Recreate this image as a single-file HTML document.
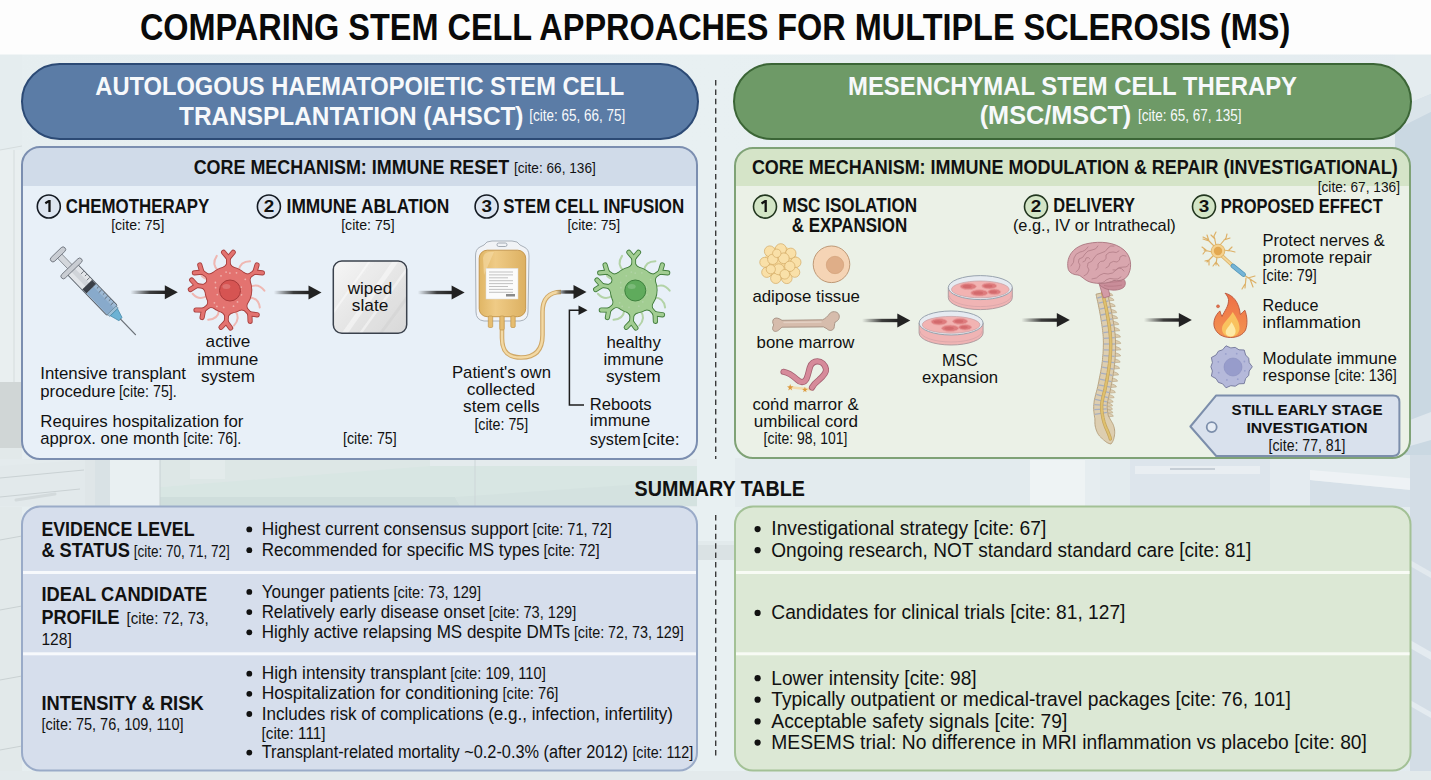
<!DOCTYPE html>
<html><head><meta charset="utf-8"><title>Comparing Stem Cell Approaches for MS</title><style>html,body{margin:0;padding:0;background:#e6eff2;overflow:hidden}svg{display:block}text{font-family:"Liberation Sans",sans-serif}</style></head><body>
<svg width="1431" height="780" viewBox="0 0 1431 780" font-family="Liberation Sans, sans-serif">
<defs>
<linearGradient id="ag" x1="0" x2="1" y1="0" y2="0">
 <stop offset="0" stop-color="#2a2a2a" stop-opacity="0"/>
 <stop offset="0.55" stop-color="#2a2a2a" stop-opacity="0.9"/>
 <stop offset="1" stop-color="#222" stop-opacity="1"/>
</linearGradient>
<linearGradient id="slateg" x1="0" y1="0" x2="1" y2="1">
 <stop offset="0" stop-color="#f6f6f6"/>
 <stop offset="0.5" stop-color="#e6e6e6"/>
 <stop offset="1" stop-color="#d8d8d8"/>
</linearGradient>
<linearGradient id="bagg" x1="0" y1="0" x2="1" y2="0">
 <stop offset="0" stop-color="#e0b665"/>
 <stop offset="0.35" stop-color="#efcb86"/>
 <stop offset="1" stop-color="#dcb061"/>
</linearGradient>
<linearGradient id="fireg" x1="0" y1="0" x2="0" y2="1">
 <stop offset="0" stop-color="#ee6e45"/>
 <stop offset="1" stop-color="#f39552"/>
</linearGradient>
<linearGradient id="bgg" x1="0" y1="0" x2="1" y2="0">
 <stop offset="0" stop-color="#e6eef0"/>
 <stop offset="0.5" stop-color="#e8f0f2"/>
 <stop offset="1" stop-color="#e3ebef"/>
</linearGradient>
</defs>
<rect x="0" y="0" width="1431" height="780" fill="url(#bgg)"/>
<g>
<rect x="0" y="54" width="22" height="100" fill="#e5edef"/>
<rect x="0" y="150" width="22" height="232" fill="#e9eff0"/>
<line x1="14" y1="150" x2="14" y2="382" stroke="#d5dcdd" stroke-width="1"/>
<path d="M0 150 L22 146" stroke="#d5dcdd" stroke-width="1"/>
<rect x="0" y="382" width="22" height="66" fill="#d0d6d6"/>
<rect x="0" y="448" width="22" height="332" fill="#e2e9ea"/>
<path d="M0 470 L22 466" stroke="#c9d1d3" stroke-width="1"/>
<path d="M0 540 L22 536" stroke="#c9d1d3" stroke-width="1"/>
<path d="M0 610 L22 606" stroke="#c9d1d3" stroke-width="1"/>
<path d="M0 680 L22 676" stroke="#c9d1d3" stroke-width="1"/>
<path d="M0 750 L22 746" stroke="#c9d1d3" stroke-width="1"/>
<rect x="0" y="459" width="700" height="48" fill="#e4ebed"/>
<path d="M0 466 L85 460 L85 506 L0 506 Z" fill="#e2e9eb"/>
<path d="M0 478 L84 470 M0 497 L80 489" stroke="#c9d1d3" stroke-width="1"/>
<path d="M16 500 L55 494" stroke="#d3dadc" stroke-width="3" stroke-linecap="round"/>
<rect x="85" y="459" width="10" height="48" fill="#dfe6e8"/>
<rect x="95" y="459" width="15" height="48" fill="#d9e2e5"/>
<rect x="110" y="459" width="50" height="48" fill="#e9f0f2"/>
<path d="M160 459 L430 459 L430 470 L160 487 Z" fill="#dde7e6"/>
<rect x="190" y="459" width="35" height="20" fill="#e3ebeb"/>
<path d="M160 487 L430 466 L700 466 L700 506 L160 506 Z" fill="#d8e6e3"/>
<path d="M160 497 L455 497 L460 506 L160 506 Z" fill="#cfdedc"/>
<path d="M455 497 L700 480 L700 506 L460 506 Z" fill="#d4e2e0"/>
<line x1="160" y1="459" x2="160" y2="506" stroke="#c8d2d3" stroke-width="1"/>
<line x1="475" y1="459" x2="475" y2="506" stroke="#cdd6d8" stroke-width="1"/>
<rect x="697" y="140" width="38" height="640" fill="#e8f0f2"/>
<rect x="697" y="541" width="38" height="19" fill="#dae2e4"/>
<rect x="697" y="541" width="38" height="4" fill="#e2eaec"/>
<rect x="735" y="458" width="696" height="49" fill="#e3ebee"/>
<rect x="1030" y="460" width="55" height="47" fill="#eef3f4"/>
<rect x="1085" y="458" width="15" height="49" fill="#e6edf0"/>
<rect x="1130" y="458" width="140" height="49" fill="#dde5ec"/>
<rect x="1135" y="466" width="125" height="8" fill="#e9eef2"/>
<path d="M1170 469 L1215 469" stroke="#c6ced6" stroke-width="2"/>
<rect x="1270" y="458" width="40" height="49" fill="#e4ebf0"/>
<path d="M1310 480 L1431 492 L1431 507 L1310 507 Z" fill="#d6e0e8"/>
<path d="M1310 470 L1431 480 L1431 492 L1310 480 Z" fill="#eef2f5"/>
<rect x="1410" y="54" width="21" height="726" fill="#d3dde6"/>
<path d="M1395 54 L1431 54 L1431 94 L1395 109 Z" fill="#e4ecef"/>
<path d="M1395 109 L1431 94 L1431 112 L1395 130 Z" fill="#dae4ea"/>
<path d="M1395 130 L1431 112 L1431 455 L1395 455 Z" fill="#cad8e2"/>
<path d="M1410 420 L1431 412 L1431 440 L1410 446 Z" fill="#dfe7ed"/>
<path d="M1410 560 L1431 572 L1431 578 L1410 566 Z" fill="#e2e9ee"/>
<path d="M1410 640 L1431 652 L1431 660 L1410 648 Z" fill="#e4ebf0"/>
<path d="M1410 700 L1431 712 L1431 718 L1410 706 Z" fill="#e4ebf0"/>
<rect x="0" y="771" width="1431" height="9" fill="#e3eaec"/>
</g>
<rect x="0" y="0" width="1431" height="54.5" fill="#fdfdfd"/>
<text x="139.9" y="40.3" font-size="37.5" font-weight="bold" fill="#0a0a0a" textLength="1150.4" lengthAdjust="spacingAndGlyphs">COMPARING STEM CELL APPROACHES FOR MULTIPLE SCLEROSIS (MS)</text>
<rect x="22" y="64" width="676" height="75" rx="37.5" fill="#5b7ca6" stroke="#2c4a75" stroke-width="2"/>
<rect x="734" y="64" width="677" height="75" rx="37.5" fill="#6e9a67" stroke="#3b6536" stroke-width="2"/>
<text x="95.3" y="95.3" font-size="25.4" font-weight="bold" fill="#f7f9fb" textLength="529.0" lengthAdjust="spacingAndGlyphs">AUTOLOGOUS HAEMATOPOIETIC STEM CELL</text>
<text x="179.1" y="124.6" font-size="25.4" font-weight="bold" fill="#f7f9fb" textLength="344.4" lengthAdjust="spacingAndGlyphs">TRANSPLANTATION (AHSCT)</text>
<text x="529.2" y="120.6" font-size="15.7" fill="#f7f9fb" textLength="96.0" lengthAdjust="spacingAndGlyphs">[cite: 65, 66, 75]</text>
<text x="848.0" y="95.1" font-size="25.4" font-weight="bold" fill="#f7f9fb" textLength="449.0" lengthAdjust="spacingAndGlyphs">MESENCHYMAL STEM CELL THERAPY</text>
<text x="979.7" y="124.4" font-size="25.4" font-weight="bold" fill="#f7f9fb" textLength="151.6" lengthAdjust="spacingAndGlyphs">(MSC/MSCT)</text>
<text x="1137.9" y="120.6" font-size="15.7" fill="#f7f9fb" textLength="103.7" lengthAdjust="spacingAndGlyphs">[cite: 65, 67, 135]</text>
<clipPath id="cpb"><rect x="22" y="147" width="675" height="312" rx="18"/></clipPath>
<rect x="22" y="147" width="675" height="312" rx="18" fill="#e8f0f8"/>
<rect x="22" y="147" width="675" height="39" fill="#d0dbe9" clip-path="url(#cpb)"/>
<rect x="22" y="147" width="675" height="312" rx="18" fill="none" stroke="#7b8eb0" stroke-width="2"/>
<clipPath id="cpg"><rect x="735" y="148" width="675" height="310" rx="18"/></clipPath>
<rect x="735" y="148" width="675" height="310" rx="18" fill="#ebf1e7"/>
<rect x="735" y="148" width="675" height="38" fill="#d5e4c8" clip-path="url(#cpg)"/>
<rect x="735" y="148" width="675" height="310" rx="18" fill="none" stroke="#7fa276" stroke-width="2"/>
<text x="193.7" y="174.0" font-size="20" font-weight="bold" fill="#111" textLength="315.4" lengthAdjust="spacingAndGlyphs">CORE MECHANISM: IMMUNE RESET</text>
<text x="513.9" y="172.6" font-size="14.4" fill="#111" textLength="81.9" lengthAdjust="spacingAndGlyphs">[cite: 66, 136]</text>
<text x="751.9" y="173.8" font-size="20" font-weight="bold" fill="#111" textLength="645.9" lengthAdjust="spacingAndGlyphs">CORE MECHANISM: IMMUNE MODULATION &amp; REPAIR (INVESTIGATIONAL)</text>
<text x="1317.7" y="192.3" font-size="14.4" fill="#111" textLength="82.3" lengthAdjust="spacingAndGlyphs">[cite: 67, 136]</text>
<circle cx="48.8" cy="206.5" r="11.5" fill="#dde5f0" stroke="#141a22" stroke-width="1.6"/>
<path d="M49.5 211.9 L49.5 201.1 L48.9 201.1 L45.3 203.3" stroke="#111" stroke-width="2.3" fill="none" stroke-linejoin="miter"/>
<text x="65.8" y="212.8" font-size="19.4" font-weight="bold" fill="#111" textLength="143.5" lengthAdjust="spacingAndGlyphs">CHEMOTHERAPY</text>
<text x="111.2" y="230.3" font-size="13.8" fill="#111" textLength="53.1" lengthAdjust="spacingAndGlyphs">[cite: 75]</text>
<circle cx="268.9" cy="206.5" r="11.5" fill="#dde5f0" stroke="#141a22" stroke-width="1.6"/>
<text x="263.7" y="211.9" font-size="16.2" font-weight="bold" fill="#111" textLength="10.5" lengthAdjust="spacingAndGlyphs">2</text>
<text x="286.6" y="212.8" font-size="19.4" font-weight="bold" fill="#111" textLength="162.7" lengthAdjust="spacingAndGlyphs">IMMUNE ABLATION</text>
<text x="341.2" y="230.3" font-size="13.8" fill="#111" textLength="53.4" lengthAdjust="spacingAndGlyphs">[cite: 75]</text>
<circle cx="486.6" cy="206.5" r="11.5" fill="#dde5f0" stroke="#141a22" stroke-width="1.6"/>
<text x="481.4" y="211.9" font-size="16.2" font-weight="bold" fill="#111" textLength="10.5" lengthAdjust="spacingAndGlyphs">3</text>
<text x="503.3" y="212.8" font-size="19.4" font-weight="bold" fill="#111" textLength="180.9" lengthAdjust="spacingAndGlyphs">STEM CELL INFUSION</text>
<text x="567.4" y="230.3" font-size="13.8" fill="#111" textLength="52.8" lengthAdjust="spacingAndGlyphs">[cite: 75]</text>
<circle cx="765.0" cy="206.6" r="11.5" fill="#d3e5c6" stroke="#22361f" stroke-width="1.6"/>
<path d="M765.7 212.0 L765.7 201.2 L765.1 201.2 L761.5 203.4" stroke="#111" stroke-width="2.3" fill="none" stroke-linejoin="miter"/>
<text x="782.4" y="212.3" font-size="19.4" font-weight="bold" fill="#111" textLength="134.7" lengthAdjust="spacingAndGlyphs">MSC ISOLATION</text>
<text x="791.7" y="231.8" font-size="19.4" font-weight="bold" fill="#111" textLength="115.5" lengthAdjust="spacingAndGlyphs">&amp; EXPANSION</text>
<circle cx="1036.0" cy="206.6" r="11.5" fill="#d3e5c6" stroke="#22361f" stroke-width="1.6"/>
<text x="1030.8" y="212.0" font-size="16.2" font-weight="bold" fill="#111" textLength="10.5" lengthAdjust="spacingAndGlyphs">2</text>
<text x="1053.3" y="211.9" font-size="19.4" font-weight="bold" fill="#111" textLength="81.6" lengthAdjust="spacingAndGlyphs">DELIVERY</text>
<text x="1012.9" y="231.2" font-size="16.5" fill="#111" textLength="162.9" lengthAdjust="spacingAndGlyphs">(e.g., IV or Intrathecal)</text>
<circle cx="1204.0" cy="206.6" r="11.5" fill="#d3e5c6" stroke="#22361f" stroke-width="1.6"/>
<text x="1198.8" y="212.0" font-size="16.2" font-weight="bold" fill="#111" textLength="10.5" lengthAdjust="spacingAndGlyphs">3</text>
<text x="1220.8" y="212.8" font-size="19.4" font-weight="bold" fill="#111" textLength="161.9" lengthAdjust="spacingAndGlyphs">PROPOSED EFFECT</text>
<g transform="translate(58,254.4) rotate(46)">
 <rect x="0" y="-3" width="20" height="6" fill="#d3d7dc" stroke="#7c828a" stroke-width="0.8"/>
 <rect x="-2.6" y="-9.6" width="5.2" height="19.2" rx="2.6" fill="#c9cdd3" stroke="#6f757e" stroke-width="0.9"/>
 <rect x="21" y="-7.2" width="57" height="14.4" rx="1.5" fill="#e8ebee" stroke="#59616a" stroke-width="1"/>
 <rect x="21.5" y="-6.7" width="20" height="13.4" fill="#e2e5e9"/><rect x="21.5" y="-2.5" width="21" height="5" fill="#d0d4d9"/>
 <rect x="42" y="-6.6" width="6" height="13.2" fill="#3a3f47"/>
 <rect x="48" y="-6.6" width="29.5" height="13.2" fill="#88aacb"/>
 <rect x="48" y="-6.6" width="29.5" height="3.6" fill="#9db9d4"/>
 <rect x="17" y="-13.8" width="5" height="27.6" rx="2.5" fill="#c9cdd3" stroke="#6f757e" stroke-width="0.9"/>

 <line x1="30.0" y1="-6.8" x2="30.0" y2="-2.8" stroke="#4a5058" stroke-width="0.7"/>
 <line x1="34.3" y1="-6.8" x2="34.3" y2="-4.3" stroke="#4a5058" stroke-width="0.7"/>
 <line x1="38.6" y1="-6.8" x2="38.6" y2="-2.8" stroke="#4a5058" stroke-width="0.7"/>
 <line x1="42.9" y1="-6.8" x2="42.9" y2="-4.3" stroke="#4a5058" stroke-width="0.7"/>
 <line x1="47.2" y1="-6.8" x2="47.2" y2="-2.8" stroke="#4a5058" stroke-width="0.7"/>
 <line x1="51.5" y1="-6.8" x2="51.5" y2="-4.3" stroke="#4a5058" stroke-width="0.7"/>
 <line x1="55.8" y1="-6.8" x2="55.8" y2="-2.8" stroke="#4a5058" stroke-width="0.7"/>
 <line x1="60.1" y1="-6.8" x2="60.1" y2="-4.3" stroke="#4a5058" stroke-width="0.7"/>
 <line x1="64.4" y1="-6.8" x2="64.4" y2="-2.8" stroke="#4a5058" stroke-width="0.7"/>
 <line x1="68.7" y1="-6.8" x2="68.7" y2="-4.3" stroke="#4a5058" stroke-width="0.7"/>
 <line x1="73.0" y1="-6.8" x2="73.0" y2="-2.8" stroke="#4a5058" stroke-width="0.7"/>
 <rect x="77.5" y="-6" width="3" height="12" fill="#9dbfd6" stroke="#5f7f96" stroke-width="0.6"/>
 <path d="M80.5 -5 L90 -2.2 L90 2.2 L80.5 5 Z" fill="#6cb2d4" stroke="#4387a8" stroke-width="0.7"/>
 <line x1="90" y1="0" x2="111.5" y2="0" stroke="#6b7178" stroke-width="1.3" stroke-linecap="round"/>
</g>
<g transform="translate(228.4,290.0)">
<path d="M-10.3 -19.4 Q-17.2 -25.8 -11.6 -34.1" stroke="#efb7b2" stroke-width="2" fill="none" stroke-linecap="round"/>
<path d="M10.3 -19.4 Q11.7 -28.7 21.7 -28.7" stroke="#efb7b2" stroke-width="2" fill="none" stroke-linecap="round"/>
<path d="M21.8 -3.1 Q30.1 -7.4 36.0 0.7" stroke="#efb7b2" stroke-width="2" fill="none" stroke-linecap="round"/>
<path d="M20.7 7.5 Q30.0 7.6 31.4 17.5" stroke="#efb7b2" stroke-width="2" fill="none" stroke-linecap="round"/>
<path d="M6.8 20.9 Q12.5 28.4 5.5 35.6" stroke="#efb7b2" stroke-width="2" fill="none" stroke-linecap="round"/>
<path d="M-9.3 19.9 Q-10.2 29.3 -20.2 29.8" stroke="#efb7b2" stroke-width="2" fill="none" stroke-linecap="round"/>
<path d="M-21.3 5.7 Q-29.0 11.0 -35.8 3.7" stroke="#efb7b2" stroke-width="2" fill="none" stroke-linecap="round"/>
<path d="M-19.4 -10.3 Q-28.7 -11.7 -28.7 -21.7" stroke="#efb7b2" stroke-width="2" fill="none" stroke-linecap="round"/>
<path d="M5.5 -22.0 Q1.2 -24.0 0.0 -30.0 Q-1.2 -24.0 -5.5 -22.0 Z" fill="#a9403f" stroke="#a9403f" stroke-width="1.80" stroke-linejoin="round"/>
<path d="M0.0 -20.0 L0.0 -32.0" stroke="#a9403f" stroke-width="4.80" stroke-linecap="round"/>
<path d="M0.0 -32.0 L-4.8 -37.7" stroke="#a9403f" stroke-width="5.20" stroke-linecap="round"/>
<path d="M0.0 -32.0 L4.8 -37.7" stroke="#a9403f" stroke-width="5.20" stroke-linecap="round"/>
<path d="M21.3 -7.7 Q20.6 -12.4 24.9 -16.8 Q19.2 -14.4 15.2 -16.9 Z" fill="#a9403f" stroke="#a9403f" stroke-width="1.80" stroke-linejoin="round"/>
<path d="M16.6 -11.2 L26.5 -17.9" stroke="#a9403f" stroke-width="4.80" stroke-linecap="round"/>
<path d="M26.5 -17.9 L28.6 -25.1" stroke="#a9403f" stroke-width="5.20" stroke-linecap="round"/>
<path d="M26.5 -17.9 L34.0 -17.1" stroke="#a9403f" stroke-width="5.20" stroke-linecap="round"/>
<path d="M-15.2 -16.9 Q-19.2 -14.4 -24.9 -16.8 Q-20.6 -12.4 -21.3 -7.7 Z" fill="#a9403f" stroke="#a9403f" stroke-width="1.80" stroke-linejoin="round"/>
<path d="M-16.6 -11.2 L-26.5 -17.9" stroke="#a9403f" stroke-width="4.80" stroke-linecap="round"/>
<path d="M-26.5 -17.9 L-34.0 -17.1" stroke="#a9403f" stroke-width="5.20" stroke-linecap="round"/>
<path d="M-26.5 -17.9 L-28.6 -25.1" stroke="#a9403f" stroke-width="5.20" stroke-linecap="round"/>
<path d="M-21.0 -8.5 Q-23.6 -4.5 -29.7 -4.2 Q-23.9 -2.2 -22.6 2.4 Z" fill="#a9403f" stroke="#a9403f" stroke-width="1.80" stroke-linejoin="round"/>
<path d="M-19.8 -2.8 L-31.7 -4.5" stroke="#a9403f" stroke-width="4.80" stroke-linecap="round"/>
<path d="M-31.7 -4.5 L-38.0 -0.5" stroke="#a9403f" stroke-width="5.20" stroke-linecap="round"/>
<path d="M-31.7 -4.5 L-36.7 -10.0" stroke="#a9403f" stroke-width="5.20" stroke-linecap="round"/>
<path d="M-20.6 9.6 Q-19.4 14.2 -23.3 18.9 Q-17.9 16.0 -13.6 18.1 Z" fill="#a9403f" stroke="#a9403f" stroke-width="1.80" stroke-linejoin="round"/>
<path d="M-15.5 12.6 L-24.9 20.1" stroke="#a9403f" stroke-width="4.80" stroke-linecap="round"/>
<path d="M-24.9 20.1 L-26.3 27.5" stroke="#a9403f" stroke-width="5.20" stroke-linecap="round"/>
<path d="M-24.9 20.1 L-32.4 20.0" stroke="#a9403f" stroke-width="5.20" stroke-linecap="round"/>
<path d="M-7.0 21.6 Q-2.9 23.9 -2.1 29.9 Q-0.5 24.0 4.0 22.3 Z" fill="#a9403f" stroke="#a9403f" stroke-width="1.80" stroke-linejoin="round"/>
<path d="M-1.4 20.0 L-2.2 31.9" stroke="#a9403f" stroke-width="4.80" stroke-linecap="round"/>
<path d="M-2.2 31.9 L2.2 38.0" stroke="#a9403f" stroke-width="5.20" stroke-linecap="round"/>
<path d="M-2.2 31.9 L-7.4 37.3" stroke="#a9403f" stroke-width="5.20" stroke-linecap="round"/>
<path d="M10.6 20.0 Q15.2 18.6 20.1 22.3 Q17.0 17.0 18.8 12.7 Z" fill="#a9403f" stroke="#a9403f" stroke-width="1.80" stroke-linejoin="round"/>
<path d="M13.4 14.9 L21.4 23.8" stroke="#a9403f" stroke-width="4.80" stroke-linecap="round"/>
<path d="M21.4 23.8 L28.8 24.8" stroke="#a9403f" stroke-width="5.20" stroke-linecap="round"/>
<path d="M21.4 23.8 L21.7 31.3" stroke="#a9403f" stroke-width="5.20" stroke-linecap="round"/>
<circle r="23.90" fill="#a9403f"/>
<path d="M5.5 -22.0 Q1.2 -24.0 0.0 -30.0 Q-1.2 -24.0 -5.5 -22.0 Z" fill="#e37370"/>
<path d="M0.0 -20.0 L0.0 -32.0" stroke="#e37370" stroke-width="3.00" stroke-linecap="round"/>
<path d="M0.0 -32.0 L-4.8 -37.7" stroke="#e37370" stroke-width="3.40" stroke-linecap="round"/>
<path d="M0.0 -32.0 L4.8 -37.7" stroke="#e37370" stroke-width="3.40" stroke-linecap="round"/>
<path d="M21.3 -7.7 Q20.6 -12.4 24.9 -16.8 Q19.2 -14.4 15.2 -16.9 Z" fill="#e37370"/>
<path d="M16.6 -11.2 L26.5 -17.9" stroke="#e37370" stroke-width="3.00" stroke-linecap="round"/>
<path d="M26.5 -17.9 L28.6 -25.1" stroke="#e37370" stroke-width="3.40" stroke-linecap="round"/>
<path d="M26.5 -17.9 L34.0 -17.1" stroke="#e37370" stroke-width="3.40" stroke-linecap="round"/>
<path d="M-15.2 -16.9 Q-19.2 -14.4 -24.9 -16.8 Q-20.6 -12.4 -21.3 -7.7 Z" fill="#e37370"/>
<path d="M-16.6 -11.2 L-26.5 -17.9" stroke="#e37370" stroke-width="3.00" stroke-linecap="round"/>
<path d="M-26.5 -17.9 L-34.0 -17.1" stroke="#e37370" stroke-width="3.40" stroke-linecap="round"/>
<path d="M-26.5 -17.9 L-28.6 -25.1" stroke="#e37370" stroke-width="3.40" stroke-linecap="round"/>
<path d="M-21.0 -8.5 Q-23.6 -4.5 -29.7 -4.2 Q-23.9 -2.2 -22.6 2.4 Z" fill="#e37370"/>
<path d="M-19.8 -2.8 L-31.7 -4.5" stroke="#e37370" stroke-width="3.00" stroke-linecap="round"/>
<path d="M-31.7 -4.5 L-38.0 -0.5" stroke="#e37370" stroke-width="3.40" stroke-linecap="round"/>
<path d="M-31.7 -4.5 L-36.7 -10.0" stroke="#e37370" stroke-width="3.40" stroke-linecap="round"/>
<path d="M-20.6 9.6 Q-19.4 14.2 -23.3 18.9 Q-17.9 16.0 -13.6 18.1 Z" fill="#e37370"/>
<path d="M-15.5 12.6 L-24.9 20.1" stroke="#e37370" stroke-width="3.00" stroke-linecap="round"/>
<path d="M-24.9 20.1 L-26.3 27.5" stroke="#e37370" stroke-width="3.40" stroke-linecap="round"/>
<path d="M-24.9 20.1 L-32.4 20.0" stroke="#e37370" stroke-width="3.40" stroke-linecap="round"/>
<path d="M-7.0 21.6 Q-2.9 23.9 -2.1 29.9 Q-0.5 24.0 4.0 22.3 Z" fill="#e37370"/>
<path d="M-1.4 20.0 L-2.2 31.9" stroke="#e37370" stroke-width="3.00" stroke-linecap="round"/>
<path d="M-2.2 31.9 L2.2 38.0" stroke="#e37370" stroke-width="3.40" stroke-linecap="round"/>
<path d="M-2.2 31.9 L-7.4 37.3" stroke="#e37370" stroke-width="3.40" stroke-linecap="round"/>
<path d="M10.6 20.0 Q15.2 18.6 20.1 22.3 Q17.0 17.0 18.8 12.7 Z" fill="#e37370"/>
<path d="M13.4 14.9 L21.4 23.8" stroke="#e37370" stroke-width="3.00" stroke-linecap="round"/>
<path d="M21.4 23.8 L28.8 24.8" stroke="#e37370" stroke-width="3.40" stroke-linecap="round"/>
<path d="M21.4 23.8 L21.7 31.3" stroke="#e37370" stroke-width="3.40" stroke-linecap="round"/>
<circle r="23.00" fill="#e37370"/>
<circle cx="12.0" cy="0.0" r="0.9" fill="#efb7b2" opacity="0.9"/>
<circle cx="-14.0" cy="12.8" r="0.9" fill="#efb7b2" opacity="0.9"/>
<circle cx="1.5" cy="-16.9" r="0.9" fill="#efb7b2" opacity="0.9"/>
<circle cx="9.1" cy="11.9" r="0.9" fill="#efb7b2" opacity="0.9"/>
<circle cx="-12.8" cy="-2.3" r="0.9" fill="#efb7b2" opacity="0.9"/>
<circle cx="16.9" cy="-10.7" r="0.9" fill="#efb7b2" opacity="0.9"/>
<circle cx="-4.7" cy="17.4" r="0.9" fill="#efb7b2" opacity="0.9"/>
<circle cx="-7.4" cy="-14.2" r="0.9" fill="#efb7b2" opacity="0.9"/>
<circle cx="13.1" cy="4.8" r="0.9" fill="#efb7b2" opacity="0.9"/>
<circle cx="-11.1" cy="4.6" r="0.9" fill="#efb7b2" opacity="0.9"/>
<circle cx="8.1" cy="-17.2" r="0.9" fill="#efb7b2" opacity="0.9"/>
<circle cx="5.1" cy="16.2" r="0.9" fill="#efb7b2" opacity="0.9"/>
<circle cx="-13.0" cy="-7.5" r="0.9" fill="#efb7b2" opacity="0.9"/>
<circle cx="12.7" cy="-2.8" r="0.9" fill="#efb7b2" opacity="0.9"/>
<circle cx="-11.5" cy="16.4" r="0.9" fill="#efb7b2" opacity="0.9"/>
<circle cx="-2.3" cy="-17.9" r="0.9" fill="#efb7b2" opacity="0.9"/>
<circle cx="1.6" cy="0.5" r="10.5" fill="#d65452" stroke="#a93a3a" stroke-width="1"/>
<ellipse cx="-2" cy="-3.5" rx="4" ry="2.5" fill="#ffffff" opacity="0.18"/>
</g>
<g transform="translate(633.7,290.0)">
<path d="M-10.3 -19.4 Q-17.2 -25.8 -11.6 -34.1" stroke="#b3d3a7" stroke-width="2" fill="none" stroke-linecap="round"/>
<path d="M10.3 -19.4 Q11.7 -28.7 21.7 -28.7" stroke="#b3d3a7" stroke-width="2" fill="none" stroke-linecap="round"/>
<path d="M21.8 -3.1 Q30.1 -7.4 36.0 0.7" stroke="#b3d3a7" stroke-width="2" fill="none" stroke-linecap="round"/>
<path d="M20.7 7.5 Q30.0 7.6 31.4 17.5" stroke="#b3d3a7" stroke-width="2" fill="none" stroke-linecap="round"/>
<path d="M6.8 20.9 Q12.5 28.4 5.5 35.6" stroke="#b3d3a7" stroke-width="2" fill="none" stroke-linecap="round"/>
<path d="M-9.3 19.9 Q-10.2 29.3 -20.2 29.8" stroke="#b3d3a7" stroke-width="2" fill="none" stroke-linecap="round"/>
<path d="M-21.3 5.7 Q-29.0 11.0 -35.8 3.7" stroke="#b3d3a7" stroke-width="2" fill="none" stroke-linecap="round"/>
<path d="M-19.4 -10.3 Q-28.7 -11.7 -28.7 -21.7" stroke="#b3d3a7" stroke-width="2" fill="none" stroke-linecap="round"/>
<path d="M5.5 -22.0 Q1.2 -24.0 0.0 -30.0 Q-1.2 -24.0 -5.5 -22.0 Z" fill="#437e3d" stroke="#437e3d" stroke-width="1.80" stroke-linejoin="round"/>
<path d="M0.0 -20.0 L0.0 -32.0" stroke="#437e3d" stroke-width="4.80" stroke-linecap="round"/>
<path d="M0.0 -32.0 L-4.8 -37.7" stroke="#437e3d" stroke-width="5.20" stroke-linecap="round"/>
<path d="M0.0 -32.0 L4.8 -37.7" stroke="#437e3d" stroke-width="5.20" stroke-linecap="round"/>
<path d="M21.3 -7.7 Q20.6 -12.4 24.9 -16.8 Q19.2 -14.4 15.2 -16.9 Z" fill="#437e3d" stroke="#437e3d" stroke-width="1.80" stroke-linejoin="round"/>
<path d="M16.6 -11.2 L26.5 -17.9" stroke="#437e3d" stroke-width="4.80" stroke-linecap="round"/>
<path d="M26.5 -17.9 L28.6 -25.1" stroke="#437e3d" stroke-width="5.20" stroke-linecap="round"/>
<path d="M26.5 -17.9 L34.0 -17.1" stroke="#437e3d" stroke-width="5.20" stroke-linecap="round"/>
<path d="M-15.2 -16.9 Q-19.2 -14.4 -24.9 -16.8 Q-20.6 -12.4 -21.3 -7.7 Z" fill="#437e3d" stroke="#437e3d" stroke-width="1.80" stroke-linejoin="round"/>
<path d="M-16.6 -11.2 L-26.5 -17.9" stroke="#437e3d" stroke-width="4.80" stroke-linecap="round"/>
<path d="M-26.5 -17.9 L-34.0 -17.1" stroke="#437e3d" stroke-width="5.20" stroke-linecap="round"/>
<path d="M-26.5 -17.9 L-28.6 -25.1" stroke="#437e3d" stroke-width="5.20" stroke-linecap="round"/>
<path d="M-21.0 -8.5 Q-23.6 -4.5 -29.7 -4.2 Q-23.9 -2.2 -22.6 2.4 Z" fill="#437e3d" stroke="#437e3d" stroke-width="1.80" stroke-linejoin="round"/>
<path d="M-19.8 -2.8 L-31.7 -4.5" stroke="#437e3d" stroke-width="4.80" stroke-linecap="round"/>
<path d="M-31.7 -4.5 L-38.0 -0.5" stroke="#437e3d" stroke-width="5.20" stroke-linecap="round"/>
<path d="M-31.7 -4.5 L-36.7 -10.0" stroke="#437e3d" stroke-width="5.20" stroke-linecap="round"/>
<path d="M-20.6 9.6 Q-19.4 14.2 -23.3 18.9 Q-17.9 16.0 -13.6 18.1 Z" fill="#437e3d" stroke="#437e3d" stroke-width="1.80" stroke-linejoin="round"/>
<path d="M-15.5 12.6 L-24.9 20.1" stroke="#437e3d" stroke-width="4.80" stroke-linecap="round"/>
<path d="M-24.9 20.1 L-26.3 27.5" stroke="#437e3d" stroke-width="5.20" stroke-linecap="round"/>
<path d="M-24.9 20.1 L-32.4 20.0" stroke="#437e3d" stroke-width="5.20" stroke-linecap="round"/>
<path d="M-7.0 21.6 Q-2.9 23.9 -2.1 29.9 Q-0.5 24.0 4.0 22.3 Z" fill="#437e3d" stroke="#437e3d" stroke-width="1.80" stroke-linejoin="round"/>
<path d="M-1.4 20.0 L-2.2 31.9" stroke="#437e3d" stroke-width="4.80" stroke-linecap="round"/>
<path d="M-2.2 31.9 L2.2 38.0" stroke="#437e3d" stroke-width="5.20" stroke-linecap="round"/>
<path d="M-2.2 31.9 L-7.4 37.3" stroke="#437e3d" stroke-width="5.20" stroke-linecap="round"/>
<path d="M10.6 20.0 Q15.2 18.6 20.1 22.3 Q17.0 17.0 18.8 12.7 Z" fill="#437e3d" stroke="#437e3d" stroke-width="1.80" stroke-linejoin="round"/>
<path d="M13.4 14.9 L21.4 23.8" stroke="#437e3d" stroke-width="4.80" stroke-linecap="round"/>
<path d="M21.4 23.8 L28.8 24.8" stroke="#437e3d" stroke-width="5.20" stroke-linecap="round"/>
<path d="M21.4 23.8 L21.7 31.3" stroke="#437e3d" stroke-width="5.20" stroke-linecap="round"/>
<circle r="23.90" fill="#437e3d"/>
<path d="M5.5 -22.0 Q1.2 -24.0 0.0 -30.0 Q-1.2 -24.0 -5.5 -22.0 Z" fill="#a2cd92"/>
<path d="M0.0 -20.0 L0.0 -32.0" stroke="#a2cd92" stroke-width="3.00" stroke-linecap="round"/>
<path d="M0.0 -32.0 L-4.8 -37.7" stroke="#a2cd92" stroke-width="3.40" stroke-linecap="round"/>
<path d="M0.0 -32.0 L4.8 -37.7" stroke="#a2cd92" stroke-width="3.40" stroke-linecap="round"/>
<path d="M21.3 -7.7 Q20.6 -12.4 24.9 -16.8 Q19.2 -14.4 15.2 -16.9 Z" fill="#a2cd92"/>
<path d="M16.6 -11.2 L26.5 -17.9" stroke="#a2cd92" stroke-width="3.00" stroke-linecap="round"/>
<path d="M26.5 -17.9 L28.6 -25.1" stroke="#a2cd92" stroke-width="3.40" stroke-linecap="round"/>
<path d="M26.5 -17.9 L34.0 -17.1" stroke="#a2cd92" stroke-width="3.40" stroke-linecap="round"/>
<path d="M-15.2 -16.9 Q-19.2 -14.4 -24.9 -16.8 Q-20.6 -12.4 -21.3 -7.7 Z" fill="#a2cd92"/>
<path d="M-16.6 -11.2 L-26.5 -17.9" stroke="#a2cd92" stroke-width="3.00" stroke-linecap="round"/>
<path d="M-26.5 -17.9 L-34.0 -17.1" stroke="#a2cd92" stroke-width="3.40" stroke-linecap="round"/>
<path d="M-26.5 -17.9 L-28.6 -25.1" stroke="#a2cd92" stroke-width="3.40" stroke-linecap="round"/>
<path d="M-21.0 -8.5 Q-23.6 -4.5 -29.7 -4.2 Q-23.9 -2.2 -22.6 2.4 Z" fill="#a2cd92"/>
<path d="M-19.8 -2.8 L-31.7 -4.5" stroke="#a2cd92" stroke-width="3.00" stroke-linecap="round"/>
<path d="M-31.7 -4.5 L-38.0 -0.5" stroke="#a2cd92" stroke-width="3.40" stroke-linecap="round"/>
<path d="M-31.7 -4.5 L-36.7 -10.0" stroke="#a2cd92" stroke-width="3.40" stroke-linecap="round"/>
<path d="M-20.6 9.6 Q-19.4 14.2 -23.3 18.9 Q-17.9 16.0 -13.6 18.1 Z" fill="#a2cd92"/>
<path d="M-15.5 12.6 L-24.9 20.1" stroke="#a2cd92" stroke-width="3.00" stroke-linecap="round"/>
<path d="M-24.9 20.1 L-26.3 27.5" stroke="#a2cd92" stroke-width="3.40" stroke-linecap="round"/>
<path d="M-24.9 20.1 L-32.4 20.0" stroke="#a2cd92" stroke-width="3.40" stroke-linecap="round"/>
<path d="M-7.0 21.6 Q-2.9 23.9 -2.1 29.9 Q-0.5 24.0 4.0 22.3 Z" fill="#a2cd92"/>
<path d="M-1.4 20.0 L-2.2 31.9" stroke="#a2cd92" stroke-width="3.00" stroke-linecap="round"/>
<path d="M-2.2 31.9 L2.2 38.0" stroke="#a2cd92" stroke-width="3.40" stroke-linecap="round"/>
<path d="M-2.2 31.9 L-7.4 37.3" stroke="#a2cd92" stroke-width="3.40" stroke-linecap="round"/>
<path d="M10.6 20.0 Q15.2 18.6 20.1 22.3 Q17.0 17.0 18.8 12.7 Z" fill="#a2cd92"/>
<path d="M13.4 14.9 L21.4 23.8" stroke="#a2cd92" stroke-width="3.00" stroke-linecap="round"/>
<path d="M21.4 23.8 L28.8 24.8" stroke="#a2cd92" stroke-width="3.40" stroke-linecap="round"/>
<path d="M21.4 23.8 L21.7 31.3" stroke="#a2cd92" stroke-width="3.40" stroke-linecap="round"/>
<circle r="23.00" fill="#a2cd92"/>
<circle cx="12.0" cy="0.0" r="0.9" fill="#b3d3a7" opacity="0.9"/>
<circle cx="-14.0" cy="12.8" r="0.9" fill="#b3d3a7" opacity="0.9"/>
<circle cx="1.5" cy="-16.9" r="0.9" fill="#b3d3a7" opacity="0.9"/>
<circle cx="9.1" cy="11.9" r="0.9" fill="#b3d3a7" opacity="0.9"/>
<circle cx="-12.8" cy="-2.3" r="0.9" fill="#b3d3a7" opacity="0.9"/>
<circle cx="16.9" cy="-10.7" r="0.9" fill="#b3d3a7" opacity="0.9"/>
<circle cx="-4.7" cy="17.4" r="0.9" fill="#b3d3a7" opacity="0.9"/>
<circle cx="-7.4" cy="-14.2" r="0.9" fill="#b3d3a7" opacity="0.9"/>
<circle cx="13.1" cy="4.8" r="0.9" fill="#b3d3a7" opacity="0.9"/>
<circle cx="-11.1" cy="4.6" r="0.9" fill="#b3d3a7" opacity="0.9"/>
<circle cx="8.1" cy="-17.2" r="0.9" fill="#b3d3a7" opacity="0.9"/>
<circle cx="5.1" cy="16.2" r="0.9" fill="#b3d3a7" opacity="0.9"/>
<circle cx="-13.0" cy="-7.5" r="0.9" fill="#b3d3a7" opacity="0.9"/>
<circle cx="12.7" cy="-2.8" r="0.9" fill="#b3d3a7" opacity="0.9"/>
<circle cx="-11.5" cy="16.4" r="0.9" fill="#b3d3a7" opacity="0.9"/>
<circle cx="-2.3" cy="-17.9" r="0.9" fill="#b3d3a7" opacity="0.9"/>
<circle cx="1.6" cy="0.5" r="10.5" fill="#5fab5c" stroke="#3c803c" stroke-width="1"/>
<ellipse cx="-2" cy="-3.5" rx="4" ry="2.5" fill="#ffffff" opacity="0.18"/>
</g>
<g>
 <clipPath id="slc"><rect x="333.3" y="261" width="73.4" height="72.3" rx="8.5"/></clipPath>
 <rect x="333.3" y="261" width="73.4" height="72.3" rx="8.5" fill="url(#slateg)"/>
 <g clip-path="url(#slc)" opacity="0.45">
  <path d="M340 340 L400 255" stroke="#ffffff" stroke-width="5"/>
  <path d="M352 345 L412 262" stroke="#ffffff" stroke-width="2.5"/>
  <path d="M328 320 L372 258" stroke="#ffffff" stroke-width="2"/>
  <path d="M372 345 L420 280" stroke="#cfcfcf" stroke-width="3"/>
 </g>
 <rect x="333.3" y="261" width="73.4" height="72.3" rx="8.5" fill="none" stroke="#3a414c" stroke-width="1.5"/>
</g>
<g>
 <path d="M502 316 L502 338 C502 352 508 357.5 521 357.5 C535 357.5 542.5 350 542.5 335 L542.5 312 C542.5 299 549 292 561 292" stroke="#cfa868" stroke-width="4.6" fill="none"/>
 <path d="M502 316 L502 338 C502 352 508 357.5 521 357.5 C535 357.5 542.5 350 542.5 335 L542.5 312 C542.5 299 549 292 561 292" stroke="#f3d9a4" stroke-width="2.4" fill="none"/>
 <path d="M484 245 Q486 241 492 241 L512 241 Q518 241 520 245 L524 247 Q529 249 529 256 L528 312 Q528 320 520 321 L484 321 Q476 320 476 312 L475.5 256 Q475.5 249 480 247 Z" fill="#f1f3f6" stroke="#a9b1ba" stroke-width="1"/>
 <rect x="497" y="243" width="10" height="3.5" rx="1.7" fill="none" stroke="#9aa3ad" stroke-width="0.9"/>
 <rect x="479.2" y="250.2" width="46.5" height="66.5" rx="8" fill="url(#bagg)" stroke="#c29245" stroke-width="0.9"/>
 <path d="M483 258 Q484 252 490 252 L494 252 L484 275 Z" fill="#f6dca6" opacity="0.6"/>
 <rect x="486" y="268.3" width="32" height="30.7" fill="#fbfbfb" stroke="#d9d9d9" stroke-width="0.5"/>

 <line x1="489" y1="272.0" x2="513" y2="272.0" stroke="#9a9a9a" stroke-width="0.6"/>
 <line x1="489" y1="274.9" x2="513" y2="274.9" stroke="#9a9a9a" stroke-width="0.6"/>
 <line x1="489" y1="277.8" x2="508" y2="277.8" stroke="#9a9a9a" stroke-width="0.6"/>
 <line x1="489" y1="280.7" x2="513" y2="280.7" stroke="#9a9a9a" stroke-width="0.6"/>
 <line x1="489" y1="283.6" x2="513" y2="283.6" stroke="#9a9a9a" stroke-width="0.6"/>
 <line x1="489" y1="286.5" x2="508" y2="286.5" stroke="#9a9a9a" stroke-width="0.6"/>
 <line x1="489" y1="289.4" x2="513" y2="289.4" stroke="#9a9a9a" stroke-width="0.6"/>
 <line x1="489" y1="292.3" x2="513" y2="292.3" stroke="#9a9a9a" stroke-width="0.6"/>
 <rect x="506" y="294" width="9" height="2.5" fill="#8a8a8a"/>
 <rect x="488.3" y="316" width="4.4" height="11.5" rx="1.2" fill="#e6bd70" stroke="#c1954a" stroke-width="0.7"/>
 <rect x="499.8" y="316" width="4.4" height="14" rx="1.2" fill="#e6bd70" stroke="#c1954a" stroke-width="0.7"/>
 <rect x="510.8" y="316" width="4.4" height="11.5" rx="1.2" fill="#e6bd70" stroke="#c1954a" stroke-width="0.7"/>
</g>
<rect x="556" y="290.3" width="18" height="3.4" fill="url(#ag)"/>
<path d="M573.5 285 L586.5 292 L573.5 299 Z" fill="#222"/>
<path d="M584 405 L569.4 405 L569.4 310.3 L579 310.3" stroke="#1e1e1e" stroke-width="1.5" fill="none"/>
<path d="M578.5 305.6 L587.5 310.3 L578.5 315 Z" fill="#1e1e1e"/>
<g>
<circle cx="780.8" cy="263.3" r="17" fill="#f6d99a"/>
<circle cx="769.8" cy="251.3" r="5.4" fill="#f9e0a8" stroke="#d6ae6a" stroke-width="0.75"/>
<circle cx="780.8" cy="249.3" r="5.6" fill="#f9e0a8" stroke="#d6ae6a" stroke-width="0.75"/>
<circle cx="790.8" cy="253.3" r="5.2" fill="#f9e0a8" stroke="#d6ae6a" stroke-width="0.75"/>
<circle cx="795.8" cy="262.3" r="5.2" fill="#f9e0a8" stroke="#d6ae6a" stroke-width="0.75"/>
<circle cx="794.8" cy="272.3" r="5.0" fill="#f9e0a8" stroke="#d6ae6a" stroke-width="0.75"/>
<circle cx="786.8" cy="278.3" r="5.3" fill="#f9e0a8" stroke="#d6ae6a" stroke-width="0.75"/>
<circle cx="775.8" cy="278.3" r="5.2" fill="#f9e0a8" stroke="#d6ae6a" stroke-width="0.75"/>
<circle cx="766.8" cy="272.3" r="5.1" fill="#f9e0a8" stroke="#d6ae6a" stroke-width="0.75"/>
<circle cx="764.8" cy="262.3" r="5.0" fill="#f9e0a8" stroke="#d6ae6a" stroke-width="0.75"/>
<circle cx="772.8" cy="259.3" r="5.2" fill="#f9e0a8" stroke="#d6ae6a" stroke-width="0.75"/>
<circle cx="783.8" cy="258.3" r="5.4" fill="#f9e0a8" stroke="#d6ae6a" stroke-width="0.75"/>
<circle cx="789.8" cy="266.3" r="5.2" fill="#f9e0a8" stroke="#d6ae6a" stroke-width="0.75"/>
<circle cx="778.8" cy="269.3" r="5.5" fill="#f9e0a8" stroke="#d6ae6a" stroke-width="0.75"/>
<circle cx="770.8" cy="269.3" r="4.6" fill="#f9e0a8" stroke="#d6ae6a" stroke-width="0.75"/>
<circle cx="784.8" cy="274.3" r="4.8" fill="#f9e0a8" stroke="#d6ae6a" stroke-width="0.75"/>
<circle cx="776.8" cy="253.3" r="4.2" fill="#f9e0a8" stroke="#d6ae6a" stroke-width="0.75"/>
</g>
<circle cx="831.5" cy="264.3" r="18.3" fill="#f5d4b5" stroke="#b8906c" stroke-width="0.9"/>
<circle cx="835" cy="265" r="8.7" fill="#dfae88" stroke="#cf9c74" stroke-width="0.6"/>
<path d="M782 320.3 L822.5 319.8 C825.5 318.5 827.5 316.5 829.5 313.8 C831.5 310.8 837.5 310.8 839 314.8 C840 318.2 838.3 320.8 835.2 322 C834.3 324 834.6 326 834 328 C833 331 829 331.2 827 328.8 L823.5 326.9 L782 327.2 C779.5 329.3 777.5 332 774.6 331.3 C771.8 330.5 772.3 327.2 773.8 325 C772.3 323 772.2 320 774.2 318.6 C776.6 317.2 779.3 318.5 782 320.3 Z" fill="#d6bcac" stroke="#a48e80" stroke-width="0.9"/>
<path d="M784 322.5 L821 322" stroke="#e2cfc2" stroke-width="1.4" stroke-linecap="round"/>
<path d="M790.5 387.3 L811 389.5" stroke="#f3dcae" stroke-width="2.4" stroke-linecap="round"/>
<path d="M783.5 371.8 C788 372.5 793 376 797 379.5 C800 382.5 804 383.5 806.5 378.8 C808 375.5 808.5 372 810 367 C811.5 363 814 361.3 817.4 361.3 C821.5 361.3 825 364.5 826 369.2 C826.5 373 823 376.5 818.7 380.1 C816 382.2 813.5 384.5 812 387.5" stroke="#a35f70" stroke-width="6.2" fill="none" stroke-linecap="round"/>
<path d="M783.5 371.8 C788 372.5 793 376 797 379.5 C800 382.5 804 383.5 806.5 378.8 C808 375.5 808.5 372 810 367 C811.5 363 814 361.3 817.4 361.3 C821.5 361.3 825 364.5 826 369.2 C826.5 373 823 376.5 818.7 380.1 C816 382.2 813.5 384.5 812 387.5" stroke="#d68a9a" stroke-width="4.6" fill="none" stroke-linecap="round"/>
<path d="M790.2 384 L791 386.3 L793.5 386.5 L791.4 388 L792.2 390.5 L790.2 389 L788.2 390.5 L789 388 L787 386.5 L789.4 386.3 Z" fill="#dc9a3e"/>
<path d="M804.9 386.8 L805.6 388.8 L807.7 389 L806 390.2 L806.6 392.3 L804.9 391 L803.2 392.3 L803.8 390.2 L802.1 389 L804.2 388.8 Z" fill="#dc9a3e"/>
<path d="M948.3 287.6 L948.3 297.6 A32 12 0 0 0 1012.3 297.6 L1012.3 287.6 Z" fill="#f0b4b4" stroke="#a9979c" stroke-width="0.9"/>
<path d="M949.3 295.6 A31 11 0 0 0 1011.3 295.6" fill="none" stroke="#d7a4a8" stroke-width="0.8"/>
<ellipse cx="980.3" cy="287.6" rx="32" ry="12" fill="#e6ebf1" stroke="#98a3ae" stroke-width="1"/>
<ellipse cx="980.3" cy="289.40000000000003" rx="28.8" ry="8.4" fill="#f2b3b2" stroke="#c79da2" stroke-width="0.7"/>
<ellipse cx="968.3" cy="286.40000000000003" rx="8" ry="3.2" fill="#de7b7d" stroke="#e9a0a0" stroke-width="0.8"/>
<ellipse cx="967.3" cy="286.40000000000003" rx="4.4" ry="1.6" fill="#cf6466" opacity="0.7"/>
<ellipse cx="989.3" cy="285.90000000000003" rx="7.5" ry="3" fill="#de7b7d" stroke="#e9a0a0" stroke-width="0.8"/>
<ellipse cx="988.3" cy="285.90000000000003" rx="4.1" ry="1.5" fill="#cf6466" opacity="0.7"/>
<ellipse cx="979.3" cy="292.90000000000003" rx="8.5" ry="3.2" fill="#de7b7d" stroke="#e9a0a0" stroke-width="0.8"/>
<ellipse cx="978.3" cy="292.90000000000003" rx="4.7" ry="1.6" fill="#cf6466" opacity="0.7"/>
<ellipse cx="994.3" cy="291.90000000000003" rx="6.5" ry="2.8" fill="#de7b7d" stroke="#e9a0a0" stroke-width="0.8"/>
<ellipse cx="993.3" cy="291.90000000000003" rx="3.6" ry="1.4" fill="#cf6466" opacity="0.7"/>
<path d="M919.1 323.0 L919.1 333.0 A32 12 0 0 0 983.1 333.0 L983.1 323.0 Z" fill="#f0b4b4" stroke="#a9979c" stroke-width="0.9"/>
<path d="M920.1 331.0 A31 11 0 0 0 982.1 331.0" fill="none" stroke="#d7a4a8" stroke-width="0.8"/>
<ellipse cx="951.1" cy="323.0" rx="32" ry="12" fill="#e6ebf1" stroke="#98a3ae" stroke-width="1"/>
<ellipse cx="951.1" cy="324.8" rx="28.8" ry="8.4" fill="#f2b3b2" stroke="#c79da2" stroke-width="0.7"/>
<ellipse cx="939.1" cy="321.8" rx="8" ry="3.2" fill="#de7b7d" stroke="#e9a0a0" stroke-width="0.8"/>
<ellipse cx="938.1" cy="321.8" rx="4.4" ry="1.6" fill="#cf6466" opacity="0.7"/>
<ellipse cx="960.1" cy="321.3" rx="7.5" ry="3" fill="#de7b7d" stroke="#e9a0a0" stroke-width="0.8"/>
<ellipse cx="959.1" cy="321.3" rx="4.1" ry="1.5" fill="#cf6466" opacity="0.7"/>
<ellipse cx="950.1" cy="328.3" rx="8.5" ry="3.2" fill="#de7b7d" stroke="#e9a0a0" stroke-width="0.8"/>
<ellipse cx="949.1" cy="328.3" rx="4.7" ry="1.6" fill="#cf6466" opacity="0.7"/>
<ellipse cx="965.1" cy="327.3" rx="6.5" ry="2.8" fill="#de7b7d" stroke="#e9a0a0" stroke-width="0.8"/>
<ellipse cx="964.1" cy="327.3" rx="3.6" ry="1.4" fill="#cf6466" opacity="0.7"/>
<g>
<path d="M1105.5 291.8 Q1113.0 293.5 1112.7 295.6 L1106.0 296.2 Z" fill="#dccdb0" stroke="#b7a27f" stroke-width="0.6"/>
<path d="M1106.7 296.6 Q1114.2 298.3 1113.9 300.4 L1107.2 301.0 Z" fill="#dccdb0" stroke="#b7a27f" stroke-width="0.6"/>
<path d="M1108.0 302.6 Q1115.5 304.3 1115.2 306.4 L1108.5 307.0 Z" fill="#dccdb0" stroke="#b7a27f" stroke-width="0.6"/>
<path d="M1109.4 308.8 Q1116.9 310.5 1116.6 312.6 L1109.9 313.2 Z" fill="#dccdb0" stroke="#b7a27f" stroke-width="0.6"/>
<path d="M1110.4 314.6 Q1117.9 316.3 1117.6 318.4 L1110.9 319.0 Z" fill="#dccdb0" stroke="#b7a27f" stroke-width="0.6"/>
<path d="M1111.5 320.7 Q1119.0 322.4 1118.7 324.5 L1112.0 325.1 Z" fill="#dccdb0" stroke="#b7a27f" stroke-width="0.6"/>
<path d="M1112.5 326.9 Q1120.0 328.6 1119.7 330.7 L1113.0 331.3 Z" fill="#dccdb0" stroke="#b7a27f" stroke-width="0.6"/>
<path d="M1113.2 333.3 Q1120.7 335.0 1120.4 337.1 L1113.7 337.7 Z" fill="#dccdb0" stroke="#b7a27f" stroke-width="0.6"/>
<path d="M1113.5 339.7 Q1121.0 341.4 1120.7 343.5 L1114.0 344.1 Z" fill="#dccdb0" stroke="#b7a27f" stroke-width="0.6"/>
<path d="M1113.6 346.0 Q1121.1 347.7 1120.8 349.8 L1114.1 350.4 Z" fill="#dccdb0" stroke="#b7a27f" stroke-width="0.6"/>
<path d="M1113.3 352.2 Q1120.8 353.9 1120.5 356.0 L1113.8 356.6 Z" fill="#dccdb0" stroke="#b7a27f" stroke-width="0.6"/>
<path d="M1112.9 358.4 Q1120.4 360.1 1120.1 362.2 L1113.4 362.8 Z" fill="#dccdb0" stroke="#b7a27f" stroke-width="0.6"/>
<path d="M1112.3 364.7 Q1119.8 366.4 1119.5 368.5 L1112.8 369.1 Z" fill="#dccdb0" stroke="#b7a27f" stroke-width="0.6"/>
<path d="M1111.3 371.1 Q1118.8 372.8 1118.5 374.9 L1111.8 375.5 Z" fill="#dccdb0" stroke="#b7a27f" stroke-width="0.6"/>
<path d="M1110.3 377.4 Q1117.8 379.1 1117.5 381.2 L1110.8 381.8 Z" fill="#dccdb0" stroke="#b7a27f" stroke-width="0.6"/>
<path d="M1109.2 383.2 Q1116.7 384.9 1116.4 387.0 L1109.7 387.6 Z" fill="#dccdb0" stroke="#b7a27f" stroke-width="0.6"/>
<path d="M1108.1 388.8 Q1115.6 390.5 1115.3 392.6 L1108.6 393.2 Z" fill="#dccdb0" stroke="#b7a27f" stroke-width="0.6"/>
<path d="M1106.9 393.9 Q1114.4 395.6 1114.1 397.7 L1107.4 398.3 Z" fill="#dccdb0" stroke="#b7a27f" stroke-width="0.6"/>
<path d="M1105.9 398.3 Q1113.4 400.0 1113.1 402.1 L1106.4 402.7 Z" fill="#dccdb0" stroke="#b7a27f" stroke-width="0.6"/>
<path d="M1105.3 402.1 Q1112.8 403.8 1112.5 405.9 L1105.8 406.5 Z" fill="#dccdb0" stroke="#b7a27f" stroke-width="0.6"/>
<path d="M1105.2 405.5 Q1112.7 407.2 1112.4 409.3 L1105.7 409.9 Z" fill="#dccdb0" stroke="#b7a27f" stroke-width="0.6"/>
<path d="M1105.5 409.0 Q1113.0 410.7 1112.7 412.8 L1106.0 413.4 Z" fill="#dccdb0" stroke="#b7a27f" stroke-width="0.6"/>
<path d="M1106.1 412.5 Q1113.6 414.2 1113.3 416.3 L1106.6 416.9 Z" fill="#dccdb0" stroke="#b7a27f" stroke-width="0.6"/>
<path d="M1096.0 294.2 L1096.2 295.2 L1096.5 296.5 L1096.8 298.0 L1097.2 299.6 L1097.6 301.4 L1098.0 303.2 L1098.4 305.2 L1098.8 307.2 L1099.2 309.2 L1099.6 311.2 L1099.9 313.1 L1100.3 315.0 L1100.6 316.9 L1100.9 318.8 L1101.2 320.8 L1101.5 322.7 L1101.8 324.7 L1102.1 326.7 L1102.4 328.7 L1102.6 330.6 L1102.8 332.6 L1103.0 334.5 L1103.2 336.4 L1103.3 338.3 L1103.3 340.2 L1103.4 342.1 L1103.4 344.0 L1103.3 345.9 L1103.3 347.8 L1103.2 349.8 L1103.1 351.7 L1103.0 353.6 L1102.8 355.6 L1102.6 357.5 L1102.5 359.4 L1102.3 361.4 L1102.0 363.3 L1101.8 365.2 L1101.5 367.2 L1101.1 369.2 L1100.8 371.2 L1100.4 373.2 L1100.0 375.2 L1099.6 377.2 L1099.2 379.1 L1098.9 381.1 L1098.5 383.0 L1098.1 384.8 L1097.8 386.4 L1097.4 388.0 L1097.0 389.6 L1096.6 391.2 L1096.1 392.8 L1095.7 394.4 L1095.3 396.0 L1094.9 397.7 L1094.5 399.3 L1094.2 401.0 L1094.0 402.8 L1093.8 404.6 L1093.7 406.3 L1093.7 408.0 L1093.7 409.7 L1093.8 411.3 L1094.0 412.8 L1094.2 414.4 L1094.4 415.9 L1094.6 417.3 L1094.9 418.7 L1094.9 420.1 L1094.9 421.5 L1094.9 422.9 L1095.0 424.4 L1095.2 426.0 L1095.5 427.4 L1095.9 428.8 L1096.3 430.1 L1096.8 431.4 L1097.3 432.5 L1097.8 433.5 L1098.4 434.5 L1099.0 435.3 L1099.6 436.0 L1100.3 436.7 L1101.0 437.5 L1101.8 438.3 L1102.6 439.1 L1103.5 439.8 L1104.3 440.6 L1105.3 441.3 L1106.2 442.0 L1107.1 442.6 L1108.1 443.1 L1109.1 443.5 L1110.0 443.8 L1111.0 444.0 L1111.0 444.0 L1111.6 443.2 L1112.2 442.4 L1112.7 441.5 L1113.2 440.5 L1113.6 439.4 L1113.9 438.3 L1114.1 437.2 L1114.4 436.0 L1114.5 434.8 L1114.7 433.6 L1114.7 432.5 L1114.7 431.3 L1114.6 430.0 L1114.4 428.8 L1114.2 427.6 L1113.8 426.5 L1113.5 425.4 L1113.1 424.4 L1112.6 423.4 L1112.1 422.5 L1111.6 421.6 L1111.1 420.8 L1110.6 420.0 L1110.1 419.1 L1109.6 418.1 L1109.0 417.0 L1108.4 415.9 L1108.1 414.7 L1107.9 413.5 L1107.7 412.4 L1107.5 411.2 L1107.4 410.1 L1107.3 408.9 L1107.2 407.7 L1107.2 406.6 L1107.2 405.4 L1107.3 404.3 L1107.4 403.1 L1107.6 401.8 L1107.9 400.5 L1108.2 399.1 L1108.5 397.6 L1108.9 396.1 L1109.3 394.4 L1109.7 392.7 L1110.1 391.0 L1110.5 389.1 L1110.9 387.2 L1111.2 385.4 L1111.6 383.5 L1111.9 381.6 L1112.3 379.6 L1112.6 377.5 L1113.0 375.4 L1113.3 373.3 L1113.7 371.2 L1114.0 369.1 L1114.3 366.9 L1114.5 364.8 L1114.7 362.6 L1114.9 360.6 L1115.1 358.5 L1115.2 356.4 L1115.3 354.4 L1115.4 352.3 L1115.5 350.2 L1115.6 348.2 L1115.6 346.1 L1115.6 344.0 L1115.5 341.9 L1115.5 339.8 L1115.3 337.7 L1115.2 335.5 L1115.0 333.4 L1114.7 331.3 L1114.5 329.1 L1114.2 327.0 L1113.9 324.9 L1113.5 322.9 L1113.2 320.8 L1112.8 318.8 L1112.4 316.8 L1112.1 314.9 L1111.7 313.0 L1111.4 311.0 L1110.9 309.0 L1110.5 306.9 L1110.0 304.8 L1109.6 302.7 L1109.1 300.8 L1108.7 298.8 L1108.2 297.1 L1107.8 295.4 L1107.5 294.0 L1107.2 292.8 L1107.0 291.8 Z" fill="#ddceb0" stroke="#b29c78" stroke-width="0.9"/>
<path d="M1097.4 298.0 L1107.2 295.4" stroke="#a7afc0" stroke-width="1.3"/>
<path d="M1098.6 303.2 L1108.5 300.8" stroke="#a7afc0" stroke-width="1.3"/>
<path d="M1099.8 309.2 L1109.9 306.9" stroke="#a7afc0" stroke-width="1.3"/>
<path d="M1100.9 315.0 L1111.1 313.0" stroke="#a7afc0" stroke-width="1.3"/>
<path d="M1101.8 320.8 L1112.2 318.8" stroke="#a7afc0" stroke-width="1.3"/>
<path d="M1102.7 326.7 L1113.3 324.9" stroke="#a7afc0" stroke-width="1.3"/>
<path d="M1103.4 332.6 L1114.1 331.3" stroke="#a7afc0" stroke-width="1.3"/>
<path d="M1103.9 338.3 L1114.7 337.7" stroke="#a7afc0" stroke-width="1.3"/>
<path d="M1104.0 344.0 L1115.0 344.0" stroke="#a7afc0" stroke-width="1.3"/>
<path d="M1103.8 349.8 L1114.9 350.2" stroke="#a7afc0" stroke-width="1.3"/>
<path d="M1103.4 355.6 L1114.6 356.4" stroke="#a7afc0" stroke-width="1.3"/>
<path d="M1102.9 361.4 L1114.1 362.6" stroke="#a7afc0" stroke-width="1.3"/>
<path d="M1102.1 367.2 L1113.4 369.1" stroke="#a7afc0" stroke-width="1.3"/>
<path d="M1101.0 373.2 L1112.4 375.4" stroke="#a7afc0" stroke-width="1.3"/>
<path d="M1099.8 379.1 L1111.3 381.6" stroke="#a7afc0" stroke-width="1.3"/>
<path d="M1098.7 384.8 L1110.3 387.2" stroke="#a7afc0" stroke-width="1.3"/>
<path d="M1097.6 389.6 L1109.1 392.7" stroke="#a7afc0" stroke-width="1.3"/>
<path d="M1096.3 394.4 L1107.9 397.6" stroke="#a7afc0" stroke-width="1.3"/>
<path d="M1095.1 399.3 L1107.0 401.8" stroke="#a7afc0" stroke-width="1.3"/>
<path d="M1094.4 404.6 L1106.6 405.4" stroke="#a7afc0" stroke-width="1.3"/>
<path d="M1094.3 409.7 L1106.7 408.9" stroke="#a7afc0" stroke-width="1.3"/>
<path d="M1094.8 414.4 L1107.1 412.4" stroke="#a7afc0" stroke-width="1.3"/>
<path d="M1102.7 293.0 L1102.9 294.0 L1103.2 295.2 L1103.5 296.7 L1103.9 298.3 L1104.3 300.1 L1104.7 302.0 L1105.2 304.0 L1105.6 306.0 L1106.1 308.0 L1106.5 310.1 L1106.9 312.1 L1107.2 314.0 L1107.5 315.9 L1107.9 317.8 L1108.2 319.8 L1108.5 321.8 L1108.9 323.8 L1109.2 325.8 L1109.5 327.8 L1109.7 329.9 L1110.0 331.9 L1110.2 334.0 L1110.4 336.0 L1110.5 338.0 L1110.6 340.0 L1110.6 342.0 L1110.7 344.0 L1110.7 346.0 L1110.6 348.0 L1110.6 350.0 L1110.5 352.0 L1110.4 354.0 L1110.2 356.0 L1110.1 358.0 L1109.9 360.0 L1109.7 362.0 L1109.5 364.0 L1109.2 366.1 L1108.9 368.1 L1108.6 370.2 L1108.3 372.3 L1107.9 374.3 L1107.5 376.4 L1107.2 378.4 L1106.8 380.4 L1106.4 382.3 L1106.0 384.2 L1105.7 386.0 L1105.3 387.8 L1105.0 389.5 L1104.6 391.2 L1104.1 392.8 L1103.7 394.4 L1103.3 396.0 L1102.9 397.5 L1102.6 399.1 L1102.3 400.6 L1102.0 402.1 L1101.8 403.5 L1101.7 405.0 L1101.6 406.4 L1101.7 407.9 L1101.7 409.3 L1101.8 410.7 L1102.0 412.0 L1102.1 413.4 L1102.4 414.7 L1102.6 416.0 L1102.8 417.3 L1103.1 418.5 L1103.4 419.8 L1103.7 421.0 L1104.0 422.2 L1104.4 423.4 L1104.8 424.5 L1105.2 425.7 L1105.6 426.8 L1106.1 427.9 L1106.6 428.9 L1107.0 430.0 L1107.5 431.0 L1107.9 432.0 L1108.3 433.0 L1108.7 434.0 L1109.1 435.0 L1109.4 436.0 L1109.8 436.9 L1110.1 437.9 L1110.4 438.9" stroke="#c4a45e" stroke-width="3.4" fill="none" stroke-linecap="round"/>
<path d="M1102.7 293.0 L1102.9 294.0 L1103.2 295.2 L1103.5 296.7 L1103.9 298.3 L1104.3 300.1 L1104.7 302.0 L1105.2 304.0 L1105.6 306.0 L1106.1 308.0 L1106.5 310.1 L1106.9 312.1 L1107.2 314.0 L1107.5 315.9 L1107.9 317.8 L1108.2 319.8 L1108.5 321.8 L1108.9 323.8 L1109.2 325.8 L1109.5 327.8 L1109.7 329.9 L1110.0 331.9 L1110.2 334.0 L1110.4 336.0 L1110.5 338.0 L1110.6 340.0 L1110.6 342.0 L1110.7 344.0 L1110.7 346.0 L1110.6 348.0 L1110.6 350.0 L1110.5 352.0 L1110.4 354.0 L1110.2 356.0 L1110.1 358.0 L1109.9 360.0 L1109.7 362.0 L1109.5 364.0 L1109.2 366.1 L1108.9 368.1 L1108.6 370.2 L1108.3 372.3 L1107.9 374.3 L1107.5 376.4 L1107.2 378.4 L1106.8 380.4 L1106.4 382.3 L1106.0 384.2 L1105.7 386.0 L1105.3 387.8 L1105.0 389.5 L1104.6 391.2 L1104.1 392.8 L1103.7 394.4 L1103.3 396.0 L1102.9 397.5 L1102.6 399.1 L1102.3 400.6 L1102.0 402.1 L1101.8 403.5 L1101.7 405.0 L1101.6 406.4 L1101.7 407.9 L1101.7 409.3 L1101.8 410.7 L1102.0 412.0 L1102.1 413.4 L1102.4 414.7 L1102.6 416.0 L1102.8 417.3 L1103.1 418.5 L1103.4 419.8 L1103.7 421.0 L1104.0 422.2 L1104.4 423.4 L1104.8 424.5 L1105.2 425.7 L1105.6 426.8 L1106.1 427.9 L1106.6 428.9 L1107.0 430.0 L1107.5 431.0 L1107.9 432.0 L1108.3 433.0 L1108.7 434.0 L1109.1 435.0 L1109.4 436.0 L1109.8 436.9 L1110.1 437.9 L1110.4 438.9" stroke="#dfc06e" stroke-width="2" fill="none" stroke-linecap="round"/>
</g>
<g>
 <path d="M1098 280 L1103.5 298 L1110 296 L1106 279 Z" fill="#d39ba6" stroke="#a8707b" stroke-width="0.8"/>
 <path d="M1099 281 C1101 276 1110 275.5 1118 276.5 C1125 277.5 1127 283 1124 287 C1120 291 1110 291 1104 288 C1100 286 1098.5 284 1099 281 Z" fill="#c98d99" stroke="#a8707b" stroke-width="0.8"/>
 <path d="M1103 282 C1108 283 1116 282 1122 281 M1104 285.5 C1110 287 1117 286 1122 285" stroke="#b67784" stroke-width="0.7" fill="none"/>
 <clipPath id="brc"><path d="M1068 268 C1066 256 1074 246 1088 243.5 C1100 241 1115 242 1124 250 C1131 256 1132 266 1129 273 C1127 279 1121 281.5 1114 280.5 C1108 283.5 1098 284.5 1090 282 C1084 280 1082 276 1078 275 C1072 274.5 1068.5 272 1068 268 Z"/></clipPath>
 <path d="M1068 268 C1066 256 1074 246 1088 243.5 C1100 241 1115 242 1124 250 C1131 256 1132 266 1129 273 C1127 279 1121 281.5 1114 280.5 C1108 283.5 1098 284.5 1090 282 C1084 280 1082 276 1078 275 C1072 274.5 1068.5 272 1068 268 Z"
   fill="#d9a6ae" stroke="#a9757f" stroke-width="0.9"/>
 <g stroke="#b47f89" stroke-width="0.85" fill="none" stroke-linecap="round" clip-path="url(#brc)">
  <path d="M1071 266 Q1074.6 262.8 1074 258 Q1075.4 253.4 1080 252 Q1085.2 251.4 1088 247"/>
  <path d="M1076 272 Q1079.9 269.6 1080 265 Q1077.3 262.4 1079 259 Q1083.4 258.2 1085 254 Q1087.4 250.1 1092 250 Q1096.2 249.8 1098 246"/>
  <path d="M1084 276 Q1088.2 274.4 1089 270 Q1086.3 266.8 1088 263 Q1092.4 262.2 1094 258 Q1096.2 253.7 1101 253 Q1105.8 252.3 1108 248 Q1110.3 244.9 1114 246"/>
  <path d="M1092 279 Q1097.0 279.0 1100 275 Q1103.7 272.3 1108 274 Q1113.0 274.0 1116 270 Q1119.2 266.4 1124 267 Q1127.6 267.4 1129 264"/>
  <path d="M1096 270 Q1099.1 267.7 1098 264 Q1100.0 260.5 1104 261 Q1107.1 258.7 1106 255 Q1108.6 251.5 1113 252 Q1116.4 253.7 1119 251"/>
  <path d="M1106 268 Q1109.7 266.9 1110 263 Q1113.2 260.3 1117 262 Q1120.4 260.6 1120 257 Q1122.6 254.3 1126 256"/>
  <path d="M1099 283 Q1103.4 283.5 1106 280 Q1109.7 277.3 1114 279 Q1118.1 280.1 1121 277"/>
  <path d="M1113 270 Q1116.3 271.0 1118 268 Q1122.0 267.5 1124 271"/>
  <path d="M1083 262 Q1086.3 261.3 1086 258 Q1088.5 256.4 1090 259"/>
 </g>
</g>
<g stroke-linecap="round" fill="none">
 <g stroke="#ddb066" stroke-width="1.15">
  <path d="M1214 246 L1207 239 M1209 241 L1203 239 M1209 241 L1207 235 M1207 239 L1203 237"/>
  <path d="M1216 245 L1214 236 M1215 239 L1211 235 M1214 236 L1216 232"/>
  <path d="M1220 245 L1226 238 M1224 240 L1230 238 M1226 238 L1227 234"/>
  <path d="M1223 250 L1231 251 M1228 251 L1232 247 M1231 251 L1235 252"/>
  <path d="M1212 252 L1204 250 M1206 250 L1202 247 M1206 250 L1203 254"/>
  <path d="M1213 256 L1207 262 M1209 260 L1205 261 M1209 260 L1209 265"/>
  <path d="M1217 257 L1216 265 M1216 262 L1213 266 M1216 262 L1219 266"/>
  <path d="M1244 275 L1250 279 M1248 278 L1255 276 M1250 279 L1256 283 M1250 279 L1253 287 M1246 278 L1245 288 M1245 284 L1242 289"/>
 </g>
 <path d="M1220 254 L1233 266" stroke="#d7ad62" stroke-width="3.6"/>
 <path d="M1220 254 L1233 266" stroke="#f3d596" stroke-width="2.2"/>
 <path d="M1233 266 L1243.5 274.5" stroke="#4f93b6" stroke-width="4.8"/>
 <path d="M1233 266 L1243.5 274.5" stroke="#74b4d6" stroke-width="3.4"/>
</g>
<circle cx="1218" cy="251" r="6.8" fill="#f4d18e" stroke="#dcae5e" stroke-width="0.8"/>
<circle cx="1218" cy="251" r="4.2" fill="#e3a850"/>
<g>
 <path d="M1225 293.2 C1233 295 1239 302 1240.3 314.5 C1242 313 1243.5 311.5 1244.8 310.2 C1247 315 1248 324 1245.5 330 C1243 335 1237 337.5 1230.5 337.5 C1223 337.5 1216.5 334 1214.3 327 C1212.8 321 1215.5 315 1219.9 310.9 C1220.5 313 1221 315 1222 316.5 C1224.5 311 1229 306 1228.5 299.5 C1228 297 1226.8 295 1225 293.2 Z"
  fill="url(#fireg)" stroke="#b9553a" stroke-width="0.9" stroke-linejoin="round"/>
 <path d="M1232.8 312 C1236.5 318 1240 323 1239.5 329 C1239 334 1235 336.8 1230.5 336.8 C1225.5 336.8 1221.8 333.5 1222 328.5 C1222.3 323 1228 320 1232.8 312 Z" fill="#f9c25e"/>
 <path d="M1231.5 322 C1234 326 1236 329 1235.6 332 C1235.2 335 1233 336.5 1230.5 336.5 C1227.5 336.5 1225.5 334.5 1225.7 331.8 C1226 328.5 1229.5 326.5 1231.5 322 Z" fill="#fde9a6"/>
 <circle cx="1218" cy="306.3" r="1.5" fill="#e7704a" stroke="#b9553a" stroke-width="0.5"/>
</g>
<path d="M1252.3 366.8 L1249.2 371.0 L1248.7 375.4 L1245.6 378.6 L1244.2 383.6 L1239.0 383.8 L1235.2 386.2 L1230.8 385.7 L1226.0 387.8 L1222.6 383.8 L1218.4 382.4 L1216.0 378.6 L1211.4 376.1 L1212.4 371.0 L1210.9 366.8 L1212.4 362.6 L1211.4 357.5 L1216.0 355.0 L1218.4 351.2 L1222.6 349.8 L1226.0 345.8 L1230.8 347.9 L1235.2 347.4 L1239.0 349.8 L1244.2 350.0 L1245.6 355.0 L1248.7 358.2 L1249.2 362.6 Z" fill="#b5b9da" stroke="#6f7499" stroke-width="0.9" stroke-linejoin="round"/>
<circle cx="1233" cy="367" r="9" fill="#979ccb" stroke="#8a8fc0" stroke-width="0.6"/>
<circle cx="1244.8" cy="370.8" r="0.9" fill="#9aa0cc"/>
<circle cx="1237.8" cy="379.2" r="0.9" fill="#9aa0cc"/>
<circle cx="1226.9" cy="379.9" r="0.9" fill="#9aa0cc"/>
<circle cx="1218.7" cy="372.7" r="0.9" fill="#9aa0cc"/>
<circle cx="1218.3" cy="361.8" r="0.9" fill="#9aa0cc"/>
<circle cx="1225.8" cy="353.9" r="0.9" fill="#9aa0cc"/>
<circle cx="1236.7" cy="353.7" r="0.9" fill="#9aa0cc"/>
<circle cx="1244.4" cy="361.5" r="0.9" fill="#9aa0cc"/>
<path d="M1190.4 426.5 L1216.2 395.4 L1393 395.4 Q1399.4 395.4 1399.4 401.8 L1399.4 449.6 Q1399.4 456 1393 456 L1216.2 456 Z"
  fill="#d9e1ed" stroke="#7c8eab" stroke-width="2" stroke-linejoin="round"/>
<circle cx="1211.7" cy="427.1" r="5" fill="#e6ecf4" stroke="#7c8eab" stroke-width="1.8"/>
<text x="40.3" y="379.3" font-size="16.4" fill="#111" textLength="145.7" lengthAdjust="spacingAndGlyphs">Intensive transplant</text>
<text x="40.3" y="397.0" font-size="16.4" fill="#111" textLength="75.2" lengthAdjust="spacingAndGlyphs">procedure</text>
<text x="118.9" y="397.0" font-size="15.6" fill="#111" textLength="57.9" lengthAdjust="spacingAndGlyphs">[cite: 75].</text>
<text x="40.3" y="426.8" font-size="16.4" fill="#111" textLength="203.2" lengthAdjust="spacingAndGlyphs">Requires hospitalization for</text>
<text x="40.3" y="443.9" font-size="16.4" fill="#111" textLength="139.0" lengthAdjust="spacingAndGlyphs">approx. one month</text>
<text x="183.2" y="443.9" font-size="15.6" fill="#111" textLength="58.1" lengthAdjust="spacingAndGlyphs">[cite: 76].</text>
<text x="205.6" y="347.4" font-size="16.4" fill="#111" textLength="44.8" lengthAdjust="spacingAndGlyphs">active</text>
<text x="197.3" y="364.9" font-size="16.4" fill="#111" textLength="60.9" lengthAdjust="spacingAndGlyphs">immune</text>
<text x="200.9" y="382.4" font-size="16.4" fill="#111" textLength="54.2" lengthAdjust="spacingAndGlyphs">system</text>
<text x="347.7" y="293.6" font-size="16.4" fill="#111" textLength="44.4" lengthAdjust="spacingAndGlyphs">wiped</text>
<text x="351.8" y="311.1" font-size="16.4" fill="#111" textLength="36.5" lengthAdjust="spacingAndGlyphs">slate</text>
<text x="343.0" y="444.0" font-size="15.6" fill="#111" textLength="53.7" lengthAdjust="spacingAndGlyphs">[cite: 75]</text>
<text x="451.9" y="377.6" font-size="16.4" fill="#111" textLength="99.1" lengthAdjust="spacingAndGlyphs">Patient's own</text>
<text x="466.8" y="394.7" font-size="16.4" fill="#111" textLength="68.4" lengthAdjust="spacingAndGlyphs">collected</text>
<text x="463.1" y="412.4" font-size="16.4" fill="#111" textLength="76.6" lengthAdjust="spacingAndGlyphs">stem cells</text>
<text x="474.4" y="429.6" font-size="15.6" fill="#111" textLength="53.8" lengthAdjust="spacingAndGlyphs">[cite: 75]</text>
<text x="606.5" y="347.7" font-size="16.4" fill="#111" textLength="54.3" lengthAdjust="spacingAndGlyphs">healthy</text>
<text x="603.5" y="365.0" font-size="16.4" fill="#111" textLength="60.3" lengthAdjust="spacingAndGlyphs">immune</text>
<text x="605.9" y="382.0" font-size="16.4" fill="#111" textLength="54.9" lengthAdjust="spacingAndGlyphs">system</text>
<text x="589.7" y="409.6" font-size="16.4" fill="#111" textLength="61.9" lengthAdjust="spacingAndGlyphs">Reboots</text>
<text x="589.7" y="426.4" font-size="16.4" fill="#111" textLength="60.6" lengthAdjust="spacingAndGlyphs">immune</text>
<text x="589.7" y="444.6" font-size="16.4" fill="#111" textLength="51.1" lengthAdjust="spacingAndGlyphs">system</text>
<text x="642.4" y="444.6" font-size="15.6" fill="#111" textLength="37.4" lengthAdjust="spacingAndGlyphs">[cite:</text>
<text x="752.4" y="301.5" font-size="16.4" fill="#111" textLength="107.6" lengthAdjust="spacingAndGlyphs">adipose tissue</text>
<text x="756.6" y="347.5" font-size="16.4" fill="#111" textLength="97.8" lengthAdjust="spacingAndGlyphs">bone marrow</text>
<text x="752.4" y="410.0" font-size="16.4" fill="#111" textLength="106.2" lengthAdjust="spacingAndGlyphs">coṅd marror &amp;</text>
<text x="753.8" y="426.6" font-size="16.4" fill="#111" textLength="104.2" lengthAdjust="spacingAndGlyphs">umbilical cord</text>
<text x="763.6" y="443.7" font-size="15.6" fill="#111" textLength="83.7" lengthAdjust="spacingAndGlyphs">[cite: 98, 101]</text>
<text x="942.0" y="365.8" font-size="16.4" fill="#111" textLength="35.9" lengthAdjust="spacingAndGlyphs">MSC</text>
<text x="922.0" y="383.3" font-size="16.4" fill="#111" textLength="76.1" lengthAdjust="spacingAndGlyphs">expansion</text>
<text x="1262.6" y="245.7" font-size="16.4" fill="#111" textLength="122.2" lengthAdjust="spacingAndGlyphs">Protect nerves &amp;</text>
<text x="1262.6" y="263.2" font-size="16.4" fill="#111" textLength="109.2" lengthAdjust="spacingAndGlyphs">promote repair</text>
<text x="1262.6" y="280.6" font-size="15.6" fill="#111" textLength="54.2" lengthAdjust="spacingAndGlyphs">[cite: 79]</text>
<text x="1262.6" y="310.5" font-size="16.4" fill="#111" textLength="55.8" lengthAdjust="spacingAndGlyphs">Reduce</text>
<text x="1262.6" y="327.5" font-size="16.4" fill="#111" textLength="98.2" lengthAdjust="spacingAndGlyphs">inflammation</text>
<text x="1262.6" y="363.5" font-size="16.4" fill="#111" textLength="134.2" lengthAdjust="spacingAndGlyphs">Modulate immune</text>
<text x="1262.6" y="380.9" font-size="16.4" fill="#111" textLength="67.8" lengthAdjust="spacingAndGlyphs">response</text>
<text x="1334.6" y="380.9" font-size="15.6" fill="#111" textLength="62.2" lengthAdjust="spacingAndGlyphs">[cite: 136]</text>
<text x="634.6" y="496.3" font-size="22.6" font-weight="bold" fill="#111" textLength="170.4" lengthAdjust="spacingAndGlyphs">SUMMARY TABLE</text>
<rect x="22" y="506.5" width="675" height="264" rx="18" fill="#d6deec" stroke="#9aabc8" stroke-width="2"/>
<rect x="735" y="506.5" width="675.5" height="264" rx="18" fill="#dce8d5" stroke="#a3c196" stroke-width="2"/>
<rect x="23" y="571.0" width="673" height="3" fill="#f7f9fc"/>
<rect x="736" y="571.0" width="673.5" height="3" fill="#f8fbf5"/>
<rect x="23" y="652.3" width="673" height="3" fill="#f7f9fc"/>
<rect x="736" y="652.3" width="673.5" height="3" fill="#f8fbf5"/>
<text x="41.4" y="535.6" font-size="20.6" font-weight="bold" fill="#111" textLength="153.2" lengthAdjust="spacingAndGlyphs">EVIDENCE LEVEL</text>
<text x="41.4" y="557.1" font-size="20.6" font-weight="bold" fill="#111" textLength="88.4" lengthAdjust="spacingAndGlyphs">&amp; STATUS</text>
<text x="133.7" y="557.1" font-size="16.2" fill="#111" textLength="96.1" lengthAdjust="spacingAndGlyphs">[cite: 70, 71, 72]</text>
<text x="41.4" y="601.3" font-size="20.6" font-weight="bold" fill="#111" textLength="165.9" lengthAdjust="spacingAndGlyphs">IDEAL CANDIDATE</text>
<text x="41.4" y="623.5" font-size="20.6" font-weight="bold" fill="#111" textLength="78.2" lengthAdjust="spacingAndGlyphs">PROFILE</text>
<text x="126.6" y="624.0" font-size="16.2" fill="#111" textLength="82.1" lengthAdjust="spacingAndGlyphs">[cite: 72, 73,</text>
<text x="41.4" y="644.6" font-size="16.2" fill="#111" textLength="30.4" lengthAdjust="spacingAndGlyphs">128]</text>
<text x="41.4" y="710.4" font-size="20.6" font-weight="bold" fill="#111" textLength="162.2" lengthAdjust="spacingAndGlyphs">INTENSITY &amp; RISK</text>
<text x="41.4" y="729.7" font-size="16.2" fill="#111" textLength="142.1" lengthAdjust="spacingAndGlyphs">[cite: 75, 76, 109, 110]</text>
<circle cx="249.3" cy="529.4" r="2.9" fill="#111"/>
<text x="261.7" y="535.0" font-size="17.6" fill="#111" textLength="266.8" lengthAdjust="spacingAndGlyphs">Highest current consensus support</text>
<text x="532.6" y="535.0" font-size="16.6" fill="#111" textLength="79.2" lengthAdjust="spacingAndGlyphs">[cite: 71, 72]</text>
<circle cx="249.3" cy="550.2" r="2.9" fill="#111"/>
<text x="261.7" y="555.8" font-size="17.6" fill="#111" textLength="277.9" lengthAdjust="spacingAndGlyphs">Recommended for specific MS types</text>
<text x="543.5" y="555.8" font-size="16.6" fill="#111" textLength="56.1" lengthAdjust="spacingAndGlyphs">[cite: 72]</text>
<circle cx="249.3" cy="591.9" r="2.9" fill="#111"/>
<text x="261.7" y="597.5" font-size="17.6" fill="#111" textLength="127.9" lengthAdjust="spacingAndGlyphs">Younger patients</text>
<text x="393.5" y="597.5" font-size="16.6" fill="#111" textLength="87.5" lengthAdjust="spacingAndGlyphs">[cite: 73, 129]</text>
<circle cx="249.3" cy="612.1" r="2.9" fill="#111"/>
<text x="261.7" y="617.7" font-size="17.6" fill="#111" textLength="223.1" lengthAdjust="spacingAndGlyphs">Relatively early disease onset</text>
<text x="488.7" y="617.7" font-size="16.6" fill="#111" textLength="87.5" lengthAdjust="spacingAndGlyphs">[cite: 73, 129]</text>
<circle cx="249.3" cy="632.3" r="2.9" fill="#111"/>
<text x="261.7" y="637.9" font-size="17.6" fill="#111" textLength="308.3" lengthAdjust="spacingAndGlyphs">Highly active relapsing MS despite DMTs</text>
<text x="573.9" y="637.9" font-size="16.6" fill="#111" textLength="109.9" lengthAdjust="spacingAndGlyphs">[cite: 72, 73, 129]</text>
<circle cx="249.3" cy="673.7" r="2.9" fill="#111"/>
<text x="261.7" y="679.3" font-size="17.6" fill="#111" textLength="184.6" lengthAdjust="spacingAndGlyphs">High intensity transplant</text>
<text x="450.2" y="679.3" font-size="16.6" fill="#111" textLength="95.6" lengthAdjust="spacingAndGlyphs">[cite: 109, 110]</text>
<circle cx="249.3" cy="693.8" r="2.9" fill="#111"/>
<text x="261.7" y="699.4" font-size="17.6" fill="#111" textLength="236.9" lengthAdjust="spacingAndGlyphs">Hospitalization for conditioning</text>
<text x="502.5" y="699.4" font-size="16.6" fill="#111" textLength="56.0" lengthAdjust="spacingAndGlyphs">[cite: 76]</text>
<circle cx="249.3" cy="714.0" r="2.9" fill="#111"/>
<text x="261.7" y="719.6" font-size="17.6" fill="#111" textLength="411.3" lengthAdjust="spacingAndGlyphs">Includes risk of complications (e.g., infection, infertility)</text>
<text x="261.5" y="738.5" font-size="16.6" fill="#111" textLength="64.0" lengthAdjust="spacingAndGlyphs">[cite: 111]</text>
<circle cx="249.3" cy="752.6" r="2.9" fill="#111"/>
<text x="261.7" y="758.2" font-size="17.6" fill="#111" textLength="366.2" lengthAdjust="spacingAndGlyphs">Transplant-related mortality ~0.2-0.3% (after 2012)</text>
<text x="632.4" y="758.2" font-size="16.6" fill="#111" textLength="60.9" lengthAdjust="spacingAndGlyphs">[cite: 112]</text>
<circle cx="757.6" cy="529.1" r="3.1" fill="#111"/>
<text x="771.3" y="535.4" font-size="19.9" fill="#111" textLength="275.0" lengthAdjust="spacingAndGlyphs">Investigational strategy [cite: 67]</text>
<circle cx="757.6" cy="550.2" r="3.1" fill="#111"/>
<text x="771.3" y="556.5" font-size="19.9" fill="#111" textLength="479.9" lengthAdjust="spacingAndGlyphs">Ongoing research, NOT standard standard care [cite: 81]</text>
<circle cx="757.6" cy="612.9" r="3.1" fill="#111"/>
<text x="771.3" y="619.2" font-size="19.9" fill="#111" textLength="354.1" lengthAdjust="spacingAndGlyphs">Candidates for clinical trials [cite: 81, 127]</text>
<circle cx="757.6" cy="678.2" r="3.1" fill="#111"/>
<text x="771.3" y="684.5" font-size="19.9" fill="#111" textLength="205.4" lengthAdjust="spacingAndGlyphs">Lower intensity [cite: 98]</text>
<circle cx="757.6" cy="699.7" r="3.1" fill="#111"/>
<text x="771.3" y="706.0" font-size="19.9" fill="#111" textLength="519.6" lengthAdjust="spacingAndGlyphs">Typically outpatient or medical-travel packages [cite: 76, 101]</text>
<circle cx="757.6" cy="721.4" r="3.1" fill="#111"/>
<text x="771.3" y="727.7" font-size="19.9" fill="#111" textLength="296.1" lengthAdjust="spacingAndGlyphs">Acceptable safety signals [cite: 79]</text>
<circle cx="757.6" cy="742.6" r="3.1" fill="#111"/>
<text x="771.3" y="748.9" font-size="19.9" fill="#111" textLength="595.6" lengthAdjust="spacingAndGlyphs">MESEMS trial: No difference in MRI inflammation vs placebo [cite: 80]</text>
<line x1="715.7" y1="80" x2="715.7" y2="459" stroke="#3a3a3a" stroke-width="1.4" stroke-dasharray="5.5 3.9"/>
<line x1="715.7" y1="515" x2="715.7" y2="759.5" stroke="#3a3a3a" stroke-width="1.4" stroke-dasharray="5.5 3.9"/>
<rect x="130.4" y="290.60" width="35.4" height="3.4" fill="url(#ag)"/>
<path d="M164.8 285.3 L177.8 292.3 L164.8 299.3 Z" fill="#222"/>
<rect x="273.8" y="290.80" width="35.7" height="3.4" fill="url(#ag)"/>
<path d="M308.5 285.5 L321.5 292.5 L308.5 299.5 Z" fill="#222"/>
<rect x="417.8" y="290.80" width="34.8" height="3.4" fill="url(#ag)"/>
<path d="M451.6 285.5 L464.6 292.5 L451.6 299.5 Z" fill="#222"/>
<rect x="862.0" y="318.80" width="36.3" height="3.4" fill="url(#ag)"/>
<path d="M897.3 313.5 L910.3 320.5 L897.3 327.5 Z" fill="#222"/>
<rect x="1021.3" y="318.40" width="36.5" height="3.4" fill="url(#ag)"/>
<path d="M1056.8 313.1 L1069.8 320.1 L1056.8 327.1 Z" fill="#222"/>
<rect x="1143.9" y="318.30" width="35.9" height="3.4" fill="url(#ag)"/>
<path d="M1178.8 313.0 L1191.8 320.0 L1178.8 327.0 Z" fill="#222"/>
<text x="1231.6" y="414.7" font-size="15.4" font-weight="bold" fill="#111" textLength="150.9" lengthAdjust="spacingAndGlyphs">STILL EARLY STAGE</text>
<text x="1246.4" y="433.2" font-size="15.4" font-weight="bold" fill="#111" textLength="121.2" lengthAdjust="spacingAndGlyphs">INVESTIGATION</text>
<text x="1268.6" y="450.9" font-size="15.6" fill="#111" textLength="76.9" lengthAdjust="spacingAndGlyphs">[cite: 77, 81]</text>
</svg>
</body></html>
